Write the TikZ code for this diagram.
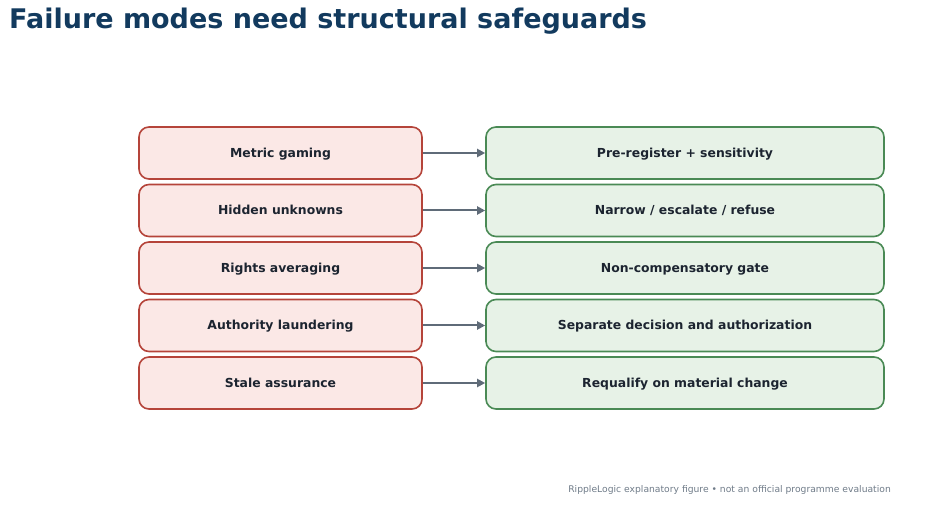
\documentclass[tikz,border=0pt]{standalone}
\usepackage{fontspec}
\setmainfont{DejaVu Sans}
\usetikzlibrary{arrows.meta}
\definecolor{titleblue}{HTML}{123A5E}
\definecolor{redline}{HTML}{B5443A}
\definecolor{redfill}{HTML}{FBE8E6}
\definecolor{greenline}{HTML}{4A8A55}
\definecolor{greenfill}{HTML}{E7F2E7}
\definecolor{arrowgray}{HTML}{5F6B78}
\definecolor{textdark}{HTML}{1C2430}
\definecolor{footgray}{HTML}{6F7B88}
\tikzset{
  boxbase/.style={line width=1.6pt, rounded corners=10pt,
    minimum height=52pt, inner sep=0pt, text height=11.5pt, text depth=2.5pt,
    font=\bfseries\fontsize{12.4}{15}\selectfont, text=textdark},
  failbox/.style={boxbase, draw=redline, fill=redfill, minimum width=283pt},
  safebox/.style={boxbase, draw=greenline, fill=greenfill, minimum width=398pt},
  conn/.style={draw=arrowgray, line width=2pt, -{Triangle[length=8pt,width=8pt]}}
}
\begin{document}
\begin{tikzpicture}[x=1pt,y=1pt]
\useasboundingbox (0,0) rectangle (933,514);
\node[anchor=base west, inner sep=0pt, text=titleblue, font=\bfseries\fontsize{27}{32}\selectfont] (title) at (9,514-29) {Failure modes need structural safeguards};
\foreach \i/\a/\b in {1/{Metric gaming}/{Pre-register + sensitivity},
                      2/{Hidden unknowns}/{Narrow / escalate / refuse},
                      3/{Rights averaging}/{Non-compensatory gate},
                      4/{Authority laundering}/{Separate decision and authorization},
                      5/{Stale assurance}/{Requalify on material change}}{
  \node[failbox] (f\i) at (280.5,{514-153-(\i-1)*57.5}) {\a};
  \node[safebox] (s\i) at (685,{514-153-(\i-1)*57.5}) {\b};
  \draw[conn] (f\i.east) -- (s\i.west);
}
\node[anchor=base east, inner sep=0pt, text=footgray, font=\fontsize{9.2}{11}\selectfont] (foot) at (891,514-492) {RippleLogic explanatory figure • not an official programme evaluation};
\end{tikzpicture}
\end{document}
